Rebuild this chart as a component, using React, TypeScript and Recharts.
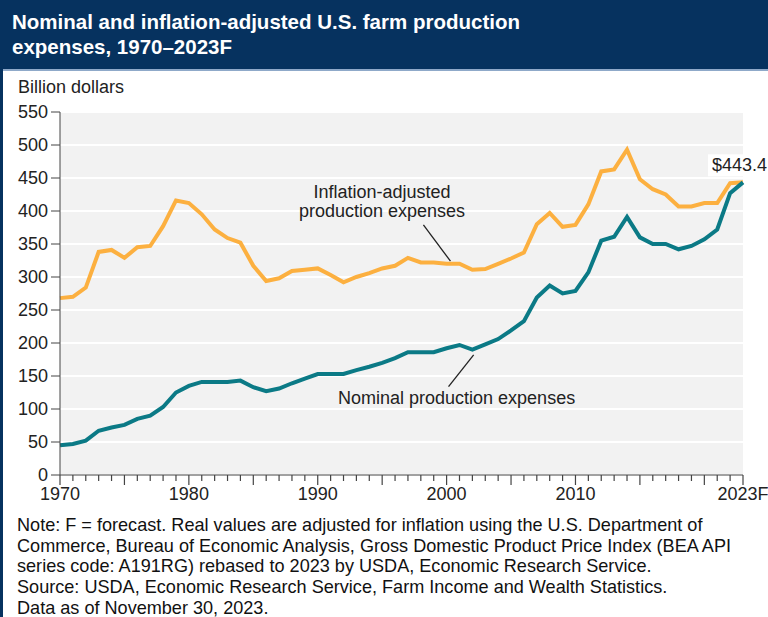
import { LineChart, Line, XAxis, YAxis, CartesianGrid, ReferenceLine } from 'recharts';

const years = [
  1970, 1971, 1972, 1973, 1974, 1975, 1976, 1977, 1978, 1979,
  1980, 1981, 1982, 1983, 1984, 1985, 1986, 1987, 1988, 1989,
  1990, 1991, 1992, 1993, 1994, 1995, 1996, 1997, 1998, 1999,
  2000, 2001, 2002, 2003, 2004, 2005, 2006, 2007, 2008, 2009,
  2010, 2011, 2012, 2013, 2014, 2015, 2016, 2017, 2018, 2019,
  2020, 2021, 2022, 2023,
];

// billion dollars
const nominal = [
  45, 47, 52, 67, 72, 76, 85, 90, 103, 125,
  135, 141, 141, 141, 143, 133, 127, 131, 139, 146,
  153, 153, 153, 159, 164, 170, 177, 186, 186, 186,
  192, 197, 190, 198, 206, 219, 233, 269, 287, 275,
  279, 307, 355, 361, 391, 360, 350, 350, 342, 347,
  357, 372, 427, 443.4,
];

const real = [
  268, 270, 284, 338, 341, 329, 345, 347, 377, 416,
  412, 395, 372, 359, 352, 317, 294, 298, 309, 311,
  313, 303, 292, 300, 306, 313, 317, 329, 322, 322,
  320, 320, 311, 312, 320, 328, 337, 380, 397, 376,
  379, 410, 460, 463, 493, 448, 433, 425, 407, 407,
  412, 412, 442, 443.4,
];

const yTicks = [0, 50, 100, 150, 200, 250, 300, 350, 400, 450, 500, 550];
const xLabels: Record<number, string> = { 1970: '1970', 1980: '1980', 1990: '1990', 2000: '2000', 2010: '2010', 2023: '2023F' };

// leader lines for the two series labels (data coords)
const realLeader = [{ x: 1998.2, y: 379 }, { x: 2000.3, y: 324 }];
const nominalLeader = [{ x: 2000.15, y: 134 }, { x: 2002.1, y: 182 }];

const noteLines = [
  'Note: F = forecast. Real values are adjusted for inflation using the U.S. Department of',
  'Commerce, Bureau of Economic Analysis, Gross Domestic Product Price Index (BEA API',
  'series code: A191RG) rebased to 2023 by USDA, Economic Research Service.',
  'Source: USDA, Economic Research Service, Farm Income and Wealth Statistics.',
  'Data as of November 30, 2023.',
];

const data = years.map((y, i) => ({ year: y, nominal: nominal[i], real: real[i] }));

const FONT = '"Liberation Sans", Arial, sans-serif';
const NAVY = '#06325f';
const AXIS = '#444';

function XTick(props: any) {
  const { x, y, payload } = props;
  const label = xLabels[payload.value];
  const axisY = y - 11; // tickSize 8 + tickMargin 3
  const major = payload.value % 5 === 0 || !!label;
  return (
    <g>
      <line x1={x} x2={x} y1={axisY} y2={axisY + (major ? 10 : 6)} stroke={AXIS} strokeWidth={1.2} />
      {label && (
        <text x={x} y={y} dy="0.75em" textAnchor="middle" fill="#222" fontSize={18} fontFamily={FONT}>
          {label}
        </text>
      )}
    </g>
  );
}

function EndLabel(props: any) {
  const { x, y, index } = props;
  if (index !== years.length - 1) return null;
  return (
    <g>
      <rect x={x - 35} y={y - 28} width={60} height={22} fill="#fff" />
      <text x={x - 31} y={y - 11} fill="#222" fontSize={18} fontFamily={FONT}>
        ${nominal[index]}
      </text>
    </g>
  );
}

export default function App() {
  return (
    <div style={{ position: 'absolute', left: 0, top: 0, width: 768, height: 617, background: '#fff', overflow: 'hidden', fontFamily: FONT }}>
      <LineChart width={768} height={617} data={data} margin={{ top: 112, right: 25, bottom: 112, left: 0 }}>
        <CartesianGrid vertical={false} stroke="#fff" strokeWidth={2} fill="#f2f2f2" />
        <XAxis
          dataKey="year"
          type="number"
          domain={[1970, 2023]}
          ticks={years}
          interval={0}
          tickSize={8}
          tickMargin={3}
          tickLine={false}
          height={30}
          stroke={AXIS}
          tick={<XTick />}
        />
        <YAxis
          domain={[0, 550]}
          ticks={yTicks}
          interval={0}
          width={60}
          tickSize={9}
          tickMargin={3}
          stroke={AXIS}
          tick={{ fill: '#222', fontSize: 18, fontFamily: FONT }}
        />
        <ReferenceLine segment={realLeader} stroke="#222" strokeWidth={1.3} ifOverflow="visible" />
        <ReferenceLine segment={nominalLeader} stroke="#222" strokeWidth={1.3} ifOverflow="visible" />
        <Line type="linear" dataKey="real" stroke="#fcb040" strokeWidth={4} dot={false} isAnimationActive={false} />
        <Line type="linear" dataKey="nominal" stroke="#0b7a86" strokeWidth={4} dot={false} isAnimationActive={false} label={<EndLabel />} />
      </LineChart>

      <div style={{ position: 'absolute', left: 0, top: 0, width: 768, height: 69, background: NAVY }} />
      <div style={{ position: 'absolute', left: 0, top: 69, width: 768, height: 2, background: '#8fa9c9' }} />
      <div style={{ position: 'absolute', left: 0, top: 0, width: 2.5, height: 617, background: NAVY }} />
      <div style={{ position: 'absolute', left: 12, top: 9, color: '#fff', fontWeight: 'bold', fontSize: 20.5, lineHeight: '25px' }}>
        Nominal and inflation-adjusted U.S. farm production<br />expenses, 1970–2023F
      </div>
      <div style={{ position: 'absolute', left: 18, top: 76, color: '#222', fontSize: 18, lineHeight: '22px' }}>Billion dollars</div>

      <div style={{ position: 'absolute', left: 282, top: 183, width: 200, textAlign: 'center', color: '#222', fontSize: 18, lineHeight: '19px' }}>
        Inflation-adjusted<br />production expenses
      </div>
      <div style={{ position: 'absolute', left: 338, top: 388, color: '#222', fontSize: 18, lineHeight: '20px', whiteSpace: 'nowrap' }}>
        Nominal production expenses
      </div>

      <div style={{ position: 'absolute', left: 17, top: 515, color: '#111', fontSize: 18.1, lineHeight: '20.7px', whiteSpace: 'nowrap' }}>
        {noteLines.map((l) => (
          <div key={l}>{l}</div>
        ))}
      </div>
    </div>
  );
}
